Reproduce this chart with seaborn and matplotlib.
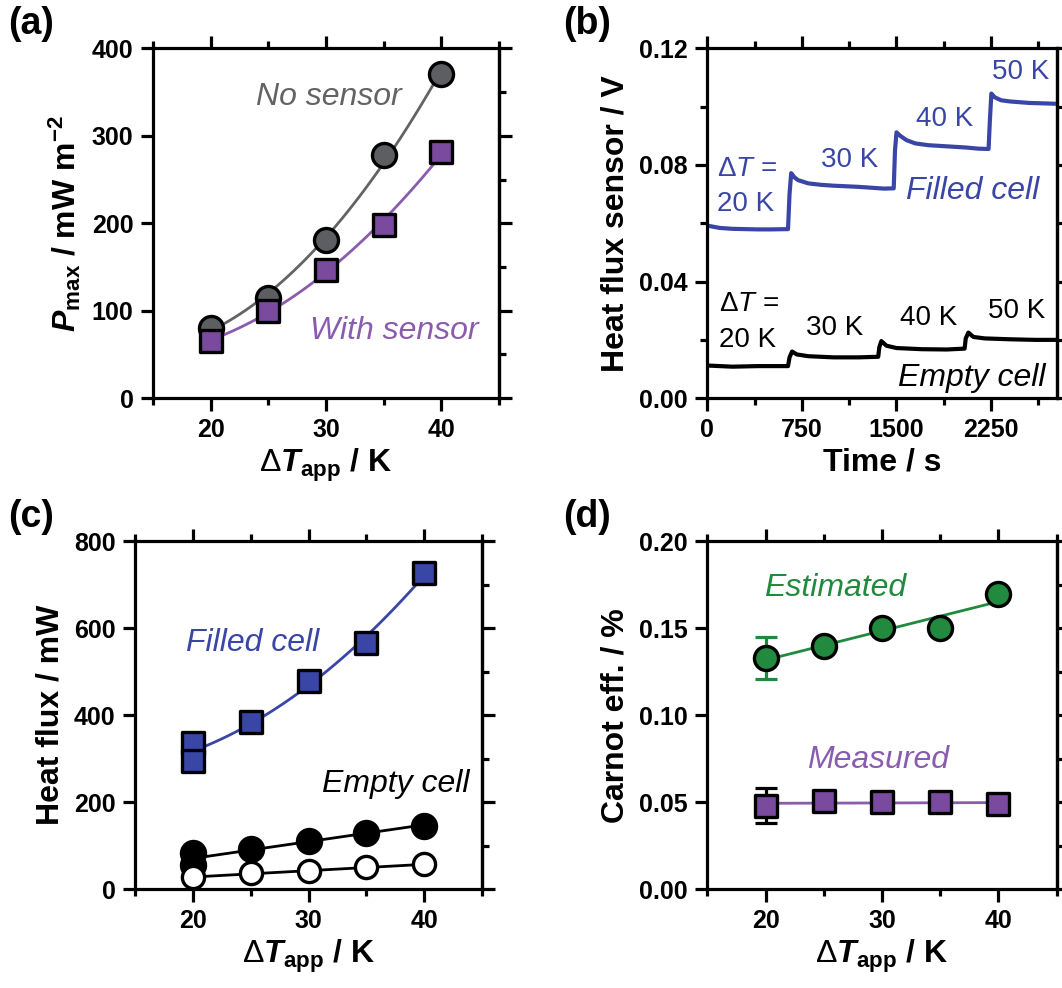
import matplotlib
matplotlib.use("Agg")
import matplotlib.pyplot as plt
import matplotlib.ticker as mticker
import seaborn as sns

# panel (a): max power density vs applied temperature difference
dt = [20, 25, 30, 35, 40]
p_no_sensor = [80, 115, 181, 278, 371]
p_with_sensor = [65, 100, 147, 198, 281]

# panel (b): heat flux sensor traces
t_filled = [0, 100, 200, 300, 400, 500, 640, 652, 665, 690, 720, 800, 900, 1000, 1100,
            1200, 1300, 1400, 1478, 1488, 1500, 1530, 1580, 1650, 1750, 1900, 2050, 2150,
            2230, 2240, 2252, 2280, 2330, 2400, 2550, 2770]
v_filled = [0.0592, 0.0584, 0.0581, 0.0580, 0.0579, 0.0579, 0.0580, 0.0700, 0.0772, 0.0758,
            0.0748, 0.0737, 0.0732, 0.0729, 0.0727, 0.0725, 0.0722, 0.0719, 0.0720, 0.0850,
            0.0912, 0.0900, 0.0885, 0.0874, 0.0868, 0.0864, 0.0860, 0.0856, 0.0855, 0.0950,
            0.1045, 0.1032, 0.1022, 0.1018, 0.1013, 0.1010]
t_empty = [0, 200, 400, 640, 652, 672, 710, 800, 1000, 1200, 1355, 1364, 1380, 1420, 1500,
           1700, 1900, 2040, 2049, 2070, 2110, 2200, 2400, 2600, 2770]
v_empty = [0.0112, 0.0108, 0.0110, 0.0110, 0.0140, 0.0160, 0.0150, 0.0144, 0.0140, 0.0140,
           0.0142, 0.0175, 0.0196, 0.0180, 0.0172, 0.0168, 0.0167, 0.0170, 0.0205, 0.0225,
           0.0210, 0.0205, 0.0202, 0.0200, 0.0200]

# panel (c): heat flux vs applied temperature difference
dt_filled = [20, 20, 25, 30, 35, 40]
flux_filled = [337, 295, 384, 478, 566, 728]
dt_empty = [20, 20, 25, 30, 35, 40]
flux_empty = [84, 55, 92, 111, 130, 146]
flux_open = [27, 37, 42, 50, 57]

# panel (d): Carnot efficiency
eff_estimated = [0.133, 0.140, 0.150, 0.150, 0.170]
eff_measured = [0.048, 0.051, 0.050, 0.050, 0.049]
err_estimated = 0.012
err_measured = 0.010

GRAY, GRAYL = "#5d5e61", "#636363"
PURPLE, PURPLEL = "#7a4a9e", "#8a5cae"
BLUE = "#3a46a6"
GREEN = "#218a3e"

sns.set_style("ticks")
plt.rcParams["font.family"] = ["Liberation Sans", "DejaVu Sans"]
plt.rcParams["mathtext.fontset"] = "custom"
plt.rcParams["mathtext.rm"] = "Liberation Sans"
plt.rcParams["mathtext.it"] = "Liberation Sans:italic"
plt.rcParams["mathtext.bf"] = "Liberation Sans:bold"
plt.rcParams["mathtext.bfit"] = "Liberation Sans:italic:bold"
plt.rcParams["mathtext.default"] = "bf"
for key in ["text.color", "axes.labelcolor", "xtick.color", "ytick.color", "axes.edgecolor"]:
    plt.rcParams[key] = "black"

fig = plt.figure(figsize=(10.62, 9.88), dpi=100)
ax_a = fig.add_axes([0.144, 0.597, 0.326, 0.354])
ax_b = fig.add_axes([0.666, 0.597, 0.329, 0.354])
ax_c = fig.add_axes([0.127, 0.100, 0.327, 0.352])
ax_d = fig.add_axes([0.666, 0.100, 0.329, 0.352])

TICK = 18
LAB = 23
NOTE = 23
MS = 300
XLAB = r"$\mathrm{\Delta}\mathbfit{T}_{\mathbf{app}}$ / K"


def frame(ax, xlim, xmaj, xmin, ylim, ymaj, ymin, left_minor=False, fmt=None):
    ax.set_xlim(*xlim)
    ax.set_ylim(*ylim)
    ax.set_xticks(xmaj)
    ax.set_xticks(xmin, minor=True)
    ax.set_yticks(ymaj)
    if left_minor:
        ax.set_yticks(ymin, minor=True)
    if fmt:
        ax.yaxis.set_major_formatter(mticker.FormatStrFormatter(fmt))
    for s in ax.spines.values():
        s.set_linewidth(2.3)
        s.set_visible(True)
        s.set_color("black")
    ax.tick_params(which="both", direction="out", top=True, width=2.3, colors="black")
    ax.tick_params(which="major", length=9, labelsize=TICK, pad=5)
    ax.tick_params(which="minor", length=5)
    for lab in ax.get_xticklabels() + ax.get_yticklabels():
        lab.set_fontweight("bold")
    sec = ax.secondary_yaxis("right")
    sec.set_yticks(ymaj)
    sec.set_yticks(ymin, minor=True)
    sec.tick_params(which="both", direction="out", width=2.3, labelright=False, colors="black")
    sec.tick_params(which="major", length=9)
    sec.tick_params(which="minor", length=5)
    sec.spines["right"].set_linewidth(2.3)
    sec.spines["right"].set_color("black")


# (a)
sns.regplot(x=dt, y=p_no_sensor, order=2, ci=None, scatter=False, ax=ax_a,
            line_kws=dict(color=GRAYL, lw=2.0, zorder=2))
sns.regplot(x=dt, y=p_with_sensor, order=2, ci=None, scatter=False, ax=ax_a,
            line_kws=dict(color=PURPLEL, lw=2.0, zorder=2))
sns.scatterplot(x=dt, y=p_no_sensor, ax=ax_a, marker="o", s=MS, color=GRAY,
                edgecolor="black", linewidth=2.4, zorder=3, clip_on=False)
sns.scatterplot(x=dt, y=p_with_sensor, ax=ax_a, marker="s", s=MS * 0.85, color=PURPLE,
                edgecolor="black", linewidth=2.4, zorder=3, clip_on=False)
frame(ax_a, (15, 45), [20, 30, 40], [15, 25, 35, 45], (0, 400),
      [0, 100, 200, 300, 400], [50, 150, 250, 350])
ax_a.text(23.9, 345, "No sensor", color=GRAYL, fontsize=NOTE, style="italic", va="center")
ax_a.text(28.6, 77, "With sensor", color=PURPLEL, fontsize=NOTE, style="italic", va="center")
ax_a.set_ylabel(r"$\mathbfit{P}_{\mathbf{max}}$ / mW m$^{-2}$", fontsize=LAB,
                fontweight="bold", labelpad=6)
ax_a.set_xlabel(XLAB, fontsize=LAB, fontweight="bold", labelpad=4)

# (b)
sns.lineplot(x=t_filled, y=v_filled, ax=ax_b, color=BLUE, lw=3.0, sort=False)
sns.lineplot(x=t_empty, y=v_empty, ax=ax_b, color="black", lw=3.0, sort=False)
frame(ax_b, (0, 2770), [0, 750, 1500, 2250], [375, 1125, 1875, 2625], (0, 0.12),
      [0, 0.04, 0.08, 0.12], [0.02, 0.06, 0.10], left_minor=True, fmt="%.2f")
K = 20
dT_txt = r"$\mathrm{\Delta}\mathit{T}$ ="
ax_b.text(75, 0.0787, dT_txt, color=BLUE, fontsize=K, va="center")
ax_b.text(75, 0.0666, "20 K", color=BLUE, fontsize=K, va="center")
ax_b.text(902, 0.0818, "30 K", color=BLUE, fontsize=K, va="center")
ax_b.text(1654, 0.0959, "40 K", color=BLUE, fontsize=K, va="center")
ax_b.text(2255, 0.1120, "50 K", color=BLUE, fontsize=K, va="center")
ax_b.text(1579, 0.0712, "Filled cell", color=BLUE, fontsize=NOTE, style="italic", va="center")
ax_b.text(89, 0.0322, dT_txt, color="black", fontsize=K, va="center")
ax_b.text(89, 0.0201, "20 K", color="black", fontsize=K, va="center")
ax_b.text(779, 0.0241, "30 K", color="black", fontsize=K, va="center")
ax_b.text(1530, 0.0276, "40 K", color="black", fontsize=K, va="center")
ax_b.text(2228, 0.0299, "50 K", color="black", fontsize=K, va="center")
ax_b.text(1512, 0.0069, "Empty cell", color="black", fontsize=NOTE, style="italic", va="center")
ax_b.set_ylabel("Heat flux sensor / V", fontsize=LAB, fontweight="bold", labelpad=6)
ax_b.set_xlabel("Time / s", fontsize=LAB, fontweight="bold", labelpad=4)

# (c)
sns.regplot(x=dt_filled, y=flux_filled, order=2, ci=None, scatter=False, ax=ax_c,
            line_kws=dict(color=BLUE, lw=2.0, zorder=2))
sns.regplot(x=dt_empty, y=flux_empty, ci=None, scatter=False, ax=ax_c,
            line_kws=dict(color="black", lw=2.0, zorder=2))
sns.regplot(x=dt, y=flux_open, ci=None, scatter=False, ax=ax_c,
            line_kws=dict(color="black", lw=2.0, zorder=2))
sns.scatterplot(x=dt_filled, y=flux_filled, ax=ax_c, marker="s", s=MS * 0.85, color=BLUE,
                edgecolor="black", linewidth=2.4, zorder=3, clip_on=False)
sns.scatterplot(x=dt_empty, y=flux_empty, ax=ax_c, marker="o", s=MS, color="black",
                edgecolor="black", linewidth=2.4, zorder=3, clip_on=False)
sns.scatterplot(x=dt, y=flux_open, ax=ax_c, marker="o", s=MS * 0.85, color="white",
                edgecolor="black", linewidth=2.4, zorder=3, clip_on=False)
frame(ax_c, (15, 45), [20, 30, 40], [15, 25, 35, 45], (0, 800),
      [0, 200, 400, 600, 800], [100, 300, 500, 700])
ax_c.text(19.4, 566, "Filled cell", color=BLUE, fontsize=NOTE, style="italic", va="center")
ax_c.text(31.2, 241, "Empty cell", color="black", fontsize=NOTE, style="italic", va="center")
ax_c.set_ylabel("Heat flux / mW", fontsize=LAB, fontweight="bold", labelpad=6)
ax_c.set_xlabel(XLAB, fontsize=LAB, fontweight="bold", labelpad=4)

# (d)
sns.regplot(x=dt, y=eff_estimated, ci=None, scatter=False, ax=ax_d,
            line_kws=dict(color=GREEN, lw=2.0, zorder=2))
sns.regplot(x=dt, y=eff_measured, ci=None, scatter=False, ax=ax_d,
            line_kws=dict(color=PURPLEL, lw=2.0, zorder=2))
ax_d.errorbar(dt[0], eff_estimated[0], yerr=err_estimated, fmt="none", ecolor=GREEN,
              elinewidth=2.3, capsize=8, capthick=2.3, zorder=2)
ax_d.errorbar(dt[0], eff_measured[0], yerr=err_measured, fmt="none", ecolor="black",
              elinewidth=2.3, capsize=8, capthick=2.3, zorder=2)
sns.scatterplot(x=dt, y=eff_estimated, ax=ax_d, marker="o", s=MS, color=GREEN,
                edgecolor="black", linewidth=2.4, zorder=3, clip_on=False)
sns.scatterplot(x=dt, y=eff_measured, ax=ax_d, marker="s", s=MS * 0.85, color=PURPLE,
                edgecolor="black", linewidth=2.4, zorder=3, clip_on=False)
frame(ax_d, (15, 45), [20, 30, 40], [15, 25, 35, 45], (0, 0.20),
      [0, 0.05, 0.10, 0.15, 0.20], [0.025, 0.075, 0.125, 0.175], fmt="%.2f")
ax_d.text(19.9, 0.1732, "Estimated", color=GREEN, fontsize=NOTE, style="italic", va="center")
ax_d.text(23.6, 0.0744, "Measured", color=PURPLEL, fontsize=NOTE, style="italic", va="center")
ax_d.set_ylabel("Carnot eff. / %", fontsize=LAB, fontweight="bold", labelpad=6)
ax_d.set_xlabel(XLAB, fontsize=LAB, fontweight="bold", labelpad=4)

for lab, x, y in [("(a)", 0.008, 0.994), ("(b)", 0.530, 0.994),
                  ("(c)", 0.008, 0.495), ("(d)", 0.530, 0.495)]:
    fig.text(x, y, lab, fontsize=27, fontweight="bold", va="top", ha="left")

fig.savefig("out.png", dpi=100)
